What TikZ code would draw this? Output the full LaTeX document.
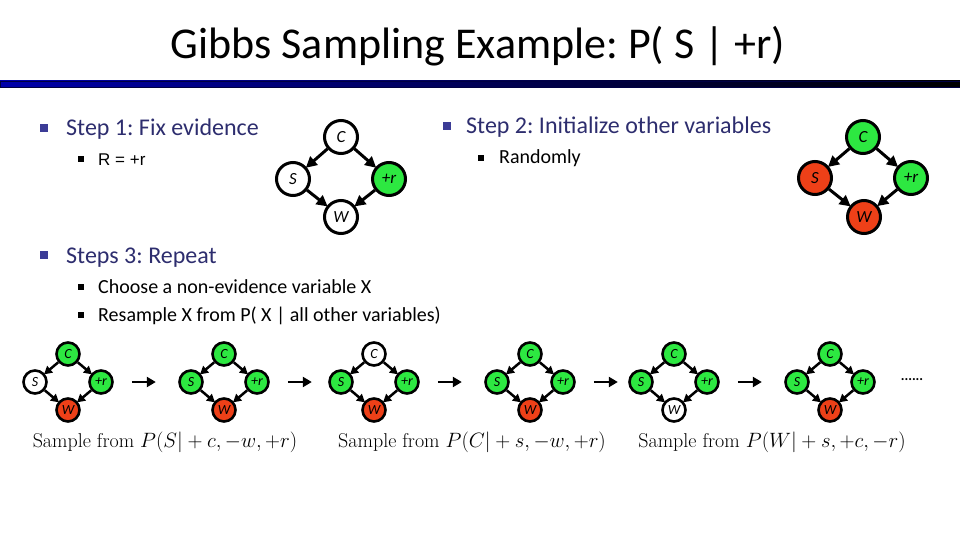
\documentclass[tikz,border=0pt]{standalone}
\usepackage{fontspec}
\newfontfamily\calibri{Carlito}
\newfontfamily\arial{Liberation Sans}
\usetikzlibrary{arrows.meta}
\definecolor{evgreen}{RGB}{45,232,65}
\definecolor{evred}{RGB}{238,64,24}
\definecolor{headblue}{RGB}{45,45,110}
\definecolor{dotblue}{RGB}{60,60,150}
\definecolor{lineblue}{RGB}{0,0,170}
\tikzset{
  bnvar/.style={circle, draw=black, line width=3pt, minimum size=33pt, inner sep=0pt,
    font=\calibri\itshape\fontsize{17}{17}\selectfont},
  smallvar/.style={bnvar, line width=2.6pt, minimum size=23pt,
    font=\calibri\itshape\fontsize{14}{14}\selectfont},
  link/.style={-{Triangle[length=11pt,width=11pt]}, line width=3pt, shorten >=-1pt},
  smalllink/.style={-{Triangle[length=8pt,width=8.5pt]}, line width=2.5pt, shorten >=-1pt},
  nextarrow/.style={-{Triangle[length=9pt,width=10pt]}, line width=2.8pt},
  heading/.style={anchor=base west, inner sep=0pt, text=headblue, font=\calibri\fontsize{24}{24}\selectfont},
  subitem/.style={anchor=base west, inner sep=0pt, font=\calibri\fontsize{20}{20}\selectfont},
  bigdot/.style={fill=dotblue, minimum size=8pt, inner sep=0pt},
  smalldot/.style={fill=black, minimum size=6pt, inner sep=0pt}
}
\begin{document}
\frenchspacing
\begin{tikzpicture}[x=1pt,y=-1pt]
  \useasboundingbox (0,0) rectangle (960,540);
  % title
  \node[anchor=base, font=\calibri\fontsize{44}{44}\selectfont] (title) at (478,59) {Gibbs Sampling Example: P( S | +r)};
  \shadedraw[left color=lineblue, right color=black, draw=black!60!lineblue, line width=0.6pt] (0,81) rectangle (960,87);
  % bullets
  \node[bigdot] (b1) at (44,128) {};
  \node[heading] (h1) at (66,136) {Step 1: Fix evidence};
  \node[smalldot] (b11) at (81,159) {};
  \node[subitem, font=\arial\fontsize{17}{17}\selectfont] (h11) at (98,165) {R = +r};
  \node[bigdot] (b2) at (447,126) {};
  \node[heading] (h2) at (466,134) {Step 2: Initialize other variables};
  \node[smalldot] (b21) at (481,158) {};
  \node[subitem] (h21) at (499,164) {Randomly};
  \node[bigdot] (b3) at (44,255) {};
  \node[heading] (h3) at (66,263) {Steps 3: Repeat};
  \node[smalldot] (b31) at (81,287) {};
  \node[subitem] (h31) at (98,293) {Choose a non-evidence variable X};
  \node[smalldot] (b32) at (81,315) {};
  \node[subitem] (h32) at (98,321) {Resample X from P( X | all other variables)};
  % step 1 network
  \node[bnvar] (cA) at (341,137) {C};
  \node[bnvar] (sA) at (293,179) {S};
  \node[bnvar, fill=evgreen] (rA) at (389,179) {+r};
  \node[bnvar] (wA) at (341,217) {W};
  \draw[link] (cA) -- (sA);
  \draw[link] (cA) -- (rA);
  \draw[link] (sA) -- (wA);
  \draw[link] (rA) -- (wA);
  % step 2 network
  \node[bnvar, fill=evgreen] (cB) at (863,137) {C};
  \node[bnvar, fill=evred] (sB) at (815,178) {S};
  \node[bnvar, fill=evgreen] (rB) at (911,178) {+r};
  \node[bnvar, fill=evred] (wB) at (864,217) {W};
  \draw[link] (cB) -- (sB);
  \draw[link] (cB) -- (rB);
  \draw[link] (sB) -- (wB);
  \draw[link] (rB) -- (wB);
  % step 3 chain
  \foreach \i/\x/\cc/\cs/\cr/\cw in {1/68/evgreen/white/evgreen/evred,
      2/224/evgreen/evgreen/evgreen/evred, 3/374/white/evgreen/evgreen/evred,
      4/530/evgreen/evgreen/evgreen/evred, 5/674/evgreen/evgreen/evgreen/white,
      6/830/evgreen/evgreen/evgreen/evred}{
    \node[smallvar, fill=\cc] (c\i) at (\x,354) {C};
    \node[smallvar, fill=\cs] (s\i) at (\x-33,382) {S};
    \node[smallvar, fill=\cr] (r\i) at (\x+33,382) {+r};
    \node[smallvar, fill=\cw] (w\i) at (\x,410) {W};
    \draw[smalllink] (c\i) -- (s\i);
    \draw[smalllink] (c\i) -- (r\i);
    \draw[smalllink] (s\i) -- (w\i);
    \draw[smalllink] (r\i) -- (w\i);
  }
  \foreach \i in {1,...,5}
    \draw[nextarrow] ([xshift=18pt]r\i.east) -- ([xshift=42pt]r\i.east);
  \node[font=\calibri\bfseries\fontsize{14}{14}\selectfont] (dots) at (912,380) {......};
  % sampling steps
  \node[anchor=base, font=\fontsize{20}{24}\selectfont] (smp1) at (165,447) {Sample from $P(S|+c,-w,+r)$};
  \node[anchor=base, font=\fontsize{20}{24}\selectfont] (smp2) at (472,447) {Sample from $P(C|+s,-w,+r)$};
  \node[anchor=base, font=\fontsize{20}{24}\selectfont] (smp3) at (772,447) {Sample from $P(W|+s,+c,-r)$};
\end{tikzpicture}
\end{document}
